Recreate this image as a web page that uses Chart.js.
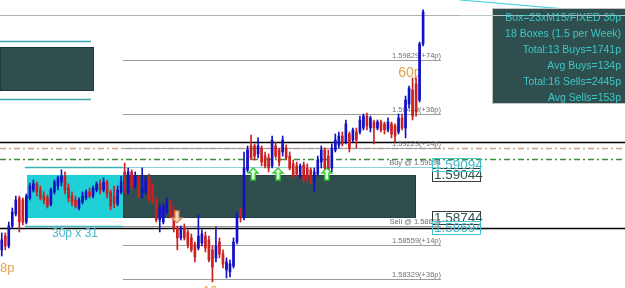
<html>
<head>
<script src="https://cdn.jsdelivr.net/npm/chart.js@4.4.0/dist/chart.umd.min.js"></script>
<style>
  body { margin: 0; background: #ffffff; }
  canvas { display: block; }
</style>
</head>
<body>
<canvas id="boxChart" width="625" height="288"></canvas>
<script>
  // GBP 15 minute candles, left to right
  var opens = [
    1.58528, 1.58623, 1.58555, 1.58692, 1.58774, 1.58884, 1.58870, 1.58719, 1.58884, 1.58939,
    1.58980, 1.58939, 1.58897, 1.58884, 1.58843, 1.58925, 1.58966, 1.58993, 1.59034, 1.58952,
    1.58897, 1.58870, 1.58815, 1.58856, 1.58884, 1.58925, 1.58897, 1.58939, 1.58980, 1.58939,
    1.58993, 1.58925, 1.58897, 1.58843, 1.58925, 1.59062, 1.58925, 1.59062, 1.58966, 1.59021,
    1.58918, 1.58925, 1.59021, 1.58952, 1.58870, 1.58733, 1.58719, 1.58788, 1.58856, 1.58802,
    1.58678, 1.58610, 1.58678, 1.58651, 1.58610, 1.58562, 1.58541, 1.58575, 1.58623, 1.58596,
    1.58528, 1.58473, 1.58582, 1.58500, 1.58391, 1.58377, 1.58418, 1.58582, 1.58788, 1.58747,
    1.59076, 1.59240, 1.59240, 1.59185, 1.59226, 1.59171, 1.59158, 1.59103, 1.59240, 1.59213,
    1.59199, 1.59226, 1.59171, 1.59117, 1.59103, 1.59034, 1.59110, 1.59089, 1.59076, 1.58993,
    1.59048, 1.59130, 1.59213, 1.59171, 1.59089, 1.59213, 1.59247, 1.59308, 1.59267, 1.59322,
    1.59281, 1.59336, 1.59336, 1.59363, 1.59445, 1.59363, 1.59404, 1.59363, 1.59404, 1.59391,
    1.59350, 1.59391, 1.59377, 1.59336, 1.59432, 1.59363, 1.59528, 1.59624, 1.59665, 1.59555,
    1.59939
  ];
  var highs = [
    1.58644, 1.58644, 1.58719, 1.58815, 1.58897, 1.58897, 1.58884, 1.58911, 1.58986, 1.59007,
    1.58993, 1.58966, 1.58925, 1.58904, 1.58952, 1.59007, 1.59034, 1.59076, 1.59062, 1.58980,
    1.58925, 1.58897, 1.58884, 1.58925, 1.58939, 1.58952, 1.58966, 1.58993, 1.59007, 1.59021,
    1.59007, 1.58939, 1.58966, 1.58966, 1.59034, 1.59123, 1.59089, 1.59076, 1.59062, 1.59034,
    1.59089, 1.59034, 1.59048, 1.58980, 1.58884, 1.58843, 1.58843, 1.58884, 1.58870, 1.58829,
    1.58692, 1.58692, 1.58706, 1.58665, 1.58637, 1.58582, 1.58767, 1.58665, 1.58651, 1.58623,
    1.58555, 1.58685, 1.58610, 1.58528, 1.58473, 1.58459, 1.58610, 1.58788, 1.58815, 1.59199,
    1.59240, 1.59315, 1.59254, 1.59295, 1.59240, 1.59199, 1.59185, 1.59308, 1.59267, 1.59226,
    1.59308, 1.59247, 1.59199, 1.59144, 1.59130, 1.59117, 1.59130, 1.59117, 1.59089, 1.59089,
    1.59171, 1.59240, 1.59226, 1.59213, 1.59254, 1.59322, 1.59336, 1.59336, 1.59418, 1.59336,
    1.59363, 1.59363, 1.59445, 1.59459, 1.59466, 1.59445, 1.59418, 1.59418, 1.59418, 1.59404,
    1.59432, 1.59404, 1.59391, 1.59459, 1.59459, 1.59582, 1.59651, 1.59706, 1.59706, 1.59952,
    1.60172
  ];
  var lows = [
    1.58486, 1.58528, 1.58541, 1.58678, 1.58760, 1.58651, 1.58699, 1.58706, 1.58870, 1.58925,
    1.58897, 1.58870, 1.58843, 1.58815, 1.58829, 1.58911, 1.58939, 1.58966, 1.58911, 1.58856,
    1.58829, 1.58815, 1.58802, 1.58843, 1.58870, 1.58884, 1.58884, 1.58925, 1.58911, 1.58925,
    1.58884, 1.58802, 1.58815, 1.58829, 1.58911, 1.58911, 1.58911, 1.58939, 1.58952, 1.58884,
    1.58884, 1.58911, 1.58856, 1.58843, 1.58719, 1.58651, 1.58706, 1.58774, 1.58747, 1.58651,
    1.58528, 1.58596, 1.58596, 1.58541, 1.58514, 1.58445, 1.58528, 1.58555, 1.58514, 1.58445,
    1.58308, 1.58445, 1.58473, 1.58404, 1.58336, 1.58343, 1.58404, 1.58569, 1.58719, 1.58733,
    1.59062, 1.59144, 1.59144, 1.59158, 1.59103, 1.59089, 1.59062, 1.59089, 1.59158, 1.59103,
    1.59171, 1.59144, 1.59076, 1.59021, 1.59034, 1.59021, 1.58993, 1.58993, 1.58980, 1.58925,
    1.59034, 1.59089, 1.59062, 1.59048, 1.59062, 1.59199, 1.59226, 1.59240, 1.59254, 1.59199,
    1.59267, 1.59226, 1.59322, 1.59350, 1.59350, 1.59336, 1.59254, 1.59350, 1.59336, 1.59322,
    1.59336, 1.59295, 1.59267, 1.59322, 1.59350, 1.59295, 1.59500, 1.59418, 1.59445, 1.59541,
    1.59925
  ];
  var closes = [
    1.58596, 1.58555, 1.58692, 1.58788, 1.58870, 1.58719, 1.58719, 1.58897, 1.58966, 1.58980,
    1.58925, 1.58884, 1.58870, 1.58829, 1.58939, 1.58993, 1.59021, 1.59034, 1.58939, 1.58884,
    1.58856, 1.58829, 1.58870, 1.58897, 1.58925, 1.58897, 1.58952, 1.58980, 1.58939, 1.58993,
    1.58911, 1.58829, 1.58843, 1.58939, 1.58993, 1.58939, 1.59062, 1.58966, 1.59034, 1.58897,
    1.58952, 1.59007, 1.58870, 1.58856, 1.58733, 1.58815, 1.58829, 1.58856, 1.58767, 1.58678,
    1.58610, 1.58678, 1.58610, 1.58562, 1.58528, 1.58480, 1.58623, 1.58637, 1.58541, 1.58459,
    1.58411, 1.58555, 1.58500, 1.58432, 1.58445, 1.58432, 1.58582, 1.58760, 1.58747, 1.59089,
    1.59213, 1.59158, 1.59171, 1.59240, 1.59130, 1.59103, 1.59089, 1.59281, 1.59171, 1.59130,
    1.59281, 1.59158, 1.59089, 1.59034, 1.59048, 1.59103, 1.59007, 1.59021, 1.58993, 1.59062,
    1.59144, 1.59213, 1.59089, 1.59076, 1.59226, 1.59281, 1.59308, 1.59254, 1.59391, 1.59226,
    1.59350, 1.59281, 1.59418, 1.59445, 1.59377, 1.59432, 1.59363, 1.59404, 1.59350, 1.59350,
    1.59404, 1.59322, 1.59308, 1.59432, 1.59363, 1.59555, 1.59637, 1.59445, 1.59473, 1.59939,
    1.60158
  ];

  // visible window: bar slots and price range
  var slotCount = 178;
  var priceMin = 1.58267, priceMax = 1.60240;

  // the current box and its levels (x values are bar slots)
  var boxTop = 1.59044, boxBottom = 1.58744;
  var boxFirst = 7.2, boxSplit = 34.5, boxLast = 118;
  var entryPrices = [1.59094, 1.58694];
  var entryTexts = ['Buy @ 1.59094', 'Sell @ 1.58694'];
  var targetPrices = [1.59829, 1.59462, 1.59229, 1.58559, 1.58329];
  var targetTexts = ['1.59829(+74p)', '1.59449(+36p)', '1.59229(+14p)', '1.58559(+14p)', '1.58329(+36p)'];
  var levelEnd = 125.1;

  // older box, top left
  var oldBoxTop = 1.59918, oldBoxBottom = 1.59617, oldBoxEnd = 26.3;
  var oldEntryPrices = [1.59962, 1.59562], oldEntryEnd = 25.4;

  // full width lines
  var greyLine = 1.60137;
  var blackLines = [1.59270, 1.58678];
  var orangeDashLine = 1.59228;
  var greenDashLine = 1.59151;
  var trendSlots = [130.5, 177.5], trendPrices = [1.60240, 1.60143];

  // price tags at the right of the box (box edges first, entries on top)
  var tagPrices = [1.59044, 1.58744, 1.59094, 1.58694];
  var tagKinds = ['box', 'box', 'buy', 'sell'];
  var tagSlot = 122.6;

  // signal arrows
  var buyArrowSlots = [71.6, 78.7, 92.6], buyArrowPrice = 1.59089;
  var sellArrowSlots = [49.9], sellArrowPrice = 1.58713;

  // notes on the chart
  var noteTexts = ['60p', '8p', '30p x 31', '10'];
  var noteSlots = [112.9, -0.5, 14.3, 57.3];
  var notePrices = [1.59713, 1.58377, 1.58617, 1.58219];

  var infoLines = [
    'Box=23xM15/FIXED 30p',
    '18 Boxes (1.5 per Week)',
    'Total:13 Buys=1741p',
    'Avg Buys=134p',
    'Total:16 Sells=2445p',
    'Avg Sells=153p'
  ];

  var slots = [];
  for (var s = 0; s < slotCount; s++) slots.push('bar ' + s);

  var wicks = lows.map(function (l, i) { return [l, highs[i]]; });
  var bodies = opens.map(function (o, i) { return [o, closes[i]]; });
  var candleColors = opens.map(function (o, i) { return closes[i] >= o ? '#1212c4' : '#cc2020'; });

  function hline(ctx, xs, ys, price, from, to, color, width, dash) {
    var y = Math.round(ys.getPixelForValue(price)) + 0.5;
    ctx.save();
    ctx.strokeStyle = color;
    ctx.lineWidth = width;
    ctx.setLineDash(dash || []);
    ctx.beginPath();
    ctx.moveTo(xs.getPixelForValue(from), y);
    ctx.lineTo(xs.getPixelForValue(to), y);
    ctx.stroke();
    ctx.restore();
  }

  function rect(ctx, xs, ys, from, to, top, bottom, fill, border) {
    var x1 = Math.round(xs.getPixelForValue(from)), x2 = Math.round(xs.getPixelForValue(to));
    var y1 = Math.round(ys.getPixelForValue(top)), y2 = Math.round(ys.getPixelForValue(bottom));
    ctx.fillStyle = fill;
    ctx.fillRect(x1, y1, x2 - x1, y2 - y1);
    if (border) {
      ctx.strokeStyle = border;
      ctx.lineWidth = 1;
      ctx.strokeRect(x1 + 0.5, y1 + 0.5, x2 - x1 - 1, y2 - y1 - 1);
    }
  }

  function arrow(ctx, cx, tip, dir, color, fill) {
    // dir 1 points up, -1 points down
    ctx.save();
    ctx.beginPath();
    ctx.moveTo(cx, tip);
    ctx.lineTo(cx + 5, tip + 5 * dir);
    ctx.lineTo(cx + 2, tip + 5 * dir);
    ctx.lineTo(cx + 2, tip + 12 * dir);
    ctx.lineTo(cx - 2, tip + 12 * dir);
    ctx.lineTo(cx - 2, tip + 5 * dir);
    ctx.lineTo(cx - 5, tip + 5 * dir);
    ctx.closePath();
    ctx.fillStyle = fill;
    ctx.fill();
    ctx.strokeStyle = color;
    ctx.lineWidth = 1.3;
    ctx.stroke();
    ctx.restore();
  }

  var overlayPlugin = {
    id: 'boxOverlay',
    beforeDatasetsDraw: function (chart) {
      var ctx = chart.ctx, xs = chart.scales.x, ys = chart.scales.y;
      var area = chart.chartArea;
      ctx.save();

      // older box
      oldEntryPrices.forEach(function (p) { hline(ctx, xs, ys, p, -0.5, oldEntryEnd, '#3aa6b0', 1.3); });
      rect(ctx, xs, ys, -0.5, oldBoxEnd, oldBoxTop, oldBoxBottom, '#2f4f4f', '#223838');

      // current box: cyan part and dark part
      rect(ctx, xs, ys, boxFirst, boxSplit, boxTop, boxBottom, '#1fd0d6');
      rect(ctx, xs, ys, boxSplit, boxLast, boxTop, boxBottom, '#2f4f4f', '#263f3f');

      // trend line running under the panel
      ctx.strokeStyle = '#4fd0dc';
      ctx.lineWidth = 1.2;
      ctx.beginPath();
      ctx.moveTo(xs.getPixelForValue(trendSlots[0]), ys.getPixelForValue(trendPrices[0]));
      ctx.lineTo(xs.getPixelForValue(trendSlots[1]), ys.getPixelForValue(trendPrices[1]));
      ctx.stroke();

      // full width lines
      hline(ctx, xs, ys, greyLine, -0.5, slotCount, '#b0b0b0', 1.2);
      hline(ctx, xs, ys, orangeDashLine, -0.5, slotCount, '#d4a37e', 1.3, [6, 3, 2, 3]);
      hline(ctx, xs, ys, greenDashLine, -0.5, slotCount, '#3d8f3d', 1.3, [6, 3, 2, 3]);
      blackLines.forEach(function (p) { hline(ctx, xs, ys, p, -0.5, slotCount, '#000000', 1.3); });

      // entry lines and targets
      var right = xs.getPixelForValue(levelEnd);
      ctx.font = '7.5px "Liberation Sans"';
      ctx.textAlign = 'right';
      ctx.textBaseline = 'alphabetic';
      entryPrices.forEach(function (p, i) {
        hline(ctx, xs, ys, p, boxFirst - 0.6, boxSplit, '#3fb0ba', 1.3);
        hline(ctx, xs, ys, p, boxSplit, levelEnd, i === 0 ? '#8fd0d6' : '#9a9a9a', 1.2);
        ctx.fillStyle = '#707070';
        ctx.fillText(entryTexts[i], right, ys.getPixelForValue(p) - 2);
      });
      targetPrices.forEach(function (p, i) {
        hline(ctx, xs, ys, p, boxSplit, levelEnd, '#9c9c9c', 1.2);
        ctx.fillStyle = '#707070';
        ctx.fillText(targetTexts[i], right, ys.getPixelForValue(p) - 2);
      });

      // notes
      ctx.textAlign = 'left';
      noteTexts.forEach(function (t, i) {
        var teal = t.indexOf('x') > 0;
        ctx.font = (t === '60p' ? '14px' : teal ? '12px' : '13px') + ' "Liberation Sans"';
        ctx.fillStyle = teal ? '#46b6c8' : '#e3a24e';
        ctx.fillText(t, Math.max(area.left, xs.getPixelForValue(noteSlots[i])), ys.getPixelForValue(notePrices[i]));
      });
      ctx.restore();
    },
    afterDatasetsDraw: function (chart) {
      var ctx = chart.ctx, xs = chart.scales.x, ys = chart.scales.y;
      var area = chart.chartArea;
      ctx.save();

      buyArrowSlots.forEach(function (b) {
        arrow(ctx, xs.getPixelForValue(b), ys.getPixelForValue(buyArrowPrice), 1, '#2ccc2c', '#e8fbe8');
      });
      sellArrowSlots.forEach(function (b) {
        arrow(ctx, xs.getPixelForValue(b), ys.getPixelForValue(sellArrowPrice), -1, '#d8834c', '#f6d8c6');
      });

      // price tags, outlined only; entry tags sit a little away from the box
      ctx.font = '13.5px "Liberation Sans"';
      ctx.textAlign = 'left';
      ctx.textBaseline = 'middle';
      var tx = Math.round(xs.getPixelForValue(tagSlot));
      tagPrices.forEach(function (p, i) {
        var kind = tagKinds[i];
        var shift = kind === 'buy' ? -2 : kind === 'sell' ? 2 : 0;
        var y = Math.round(ys.getPixelForValue(p)) + shift;
        var entry = kind !== 'box';
        ctx.strokeStyle = entry ? '#46c4d0' : '#3a3a3a';
        ctx.lineWidth = 1;
        ctx.strokeRect(tx + 0.5, y - 6.5, 48, 13);
        ctx.fillStyle = entry ? '#3fb8c8' : '#2f4f4f';
        ctx.fillText(p.toFixed(5), tx + 2, y + 0.5);
      });

      // summary panel, top right
      var px = area.right - 133, py = area.top + 8;
      ctx.fillStyle = '#2f4f4f';
      ctx.fillRect(px, py, area.right - px, 96);
      ctx.strokeStyle = '#c4c4c4';
      ctx.strokeRect(px + 0.5, py + 0.5, area.right - px, 95);
      hline(ctx, xs, ys, greyLine, trendSlots[0], slotCount, '#b8c8c8', 1.2);
      ctx.font = '10.5px "Liberation Sans"';
      ctx.textAlign = 'right';
      ctx.textBaseline = 'alphabetic';
      ctx.fillStyle = '#3ec6c6';
      infoLines.forEach(function (t, i) {
        ctx.fillText(t, area.right - 4, py + 13 + i * 16);
      });
      ctx.restore();
    }
  };

  new Chart(document.getElementById('boxChart'), {
    type: 'bar',
    data: {
      labels: slots,
      datasets: [
        { label: 'wick', data: wicks, backgroundColor: candleColors, barThickness: 1, grouped: false, order: 2 },
        { label: 'body', data: bodies, backgroundColor: candleColors, barThickness: 2, minBarLength: 1, grouped: false, order: 1 }
      ]
    },
    options: {
      responsive: false,
      animation: false,
      devicePixelRatio: 1,
      layout: { padding: 0 },
      plugins: { legend: { display: false }, tooltip: { enabled: false } },
      scales: {
        x: { display: false, offset: true, grid: { display: false } },
        y: { display: false, min: priceMin, max: priceMax }
      }
    },
    plugins: [overlayPlugin]
  });
</script>
</body>
</html>
